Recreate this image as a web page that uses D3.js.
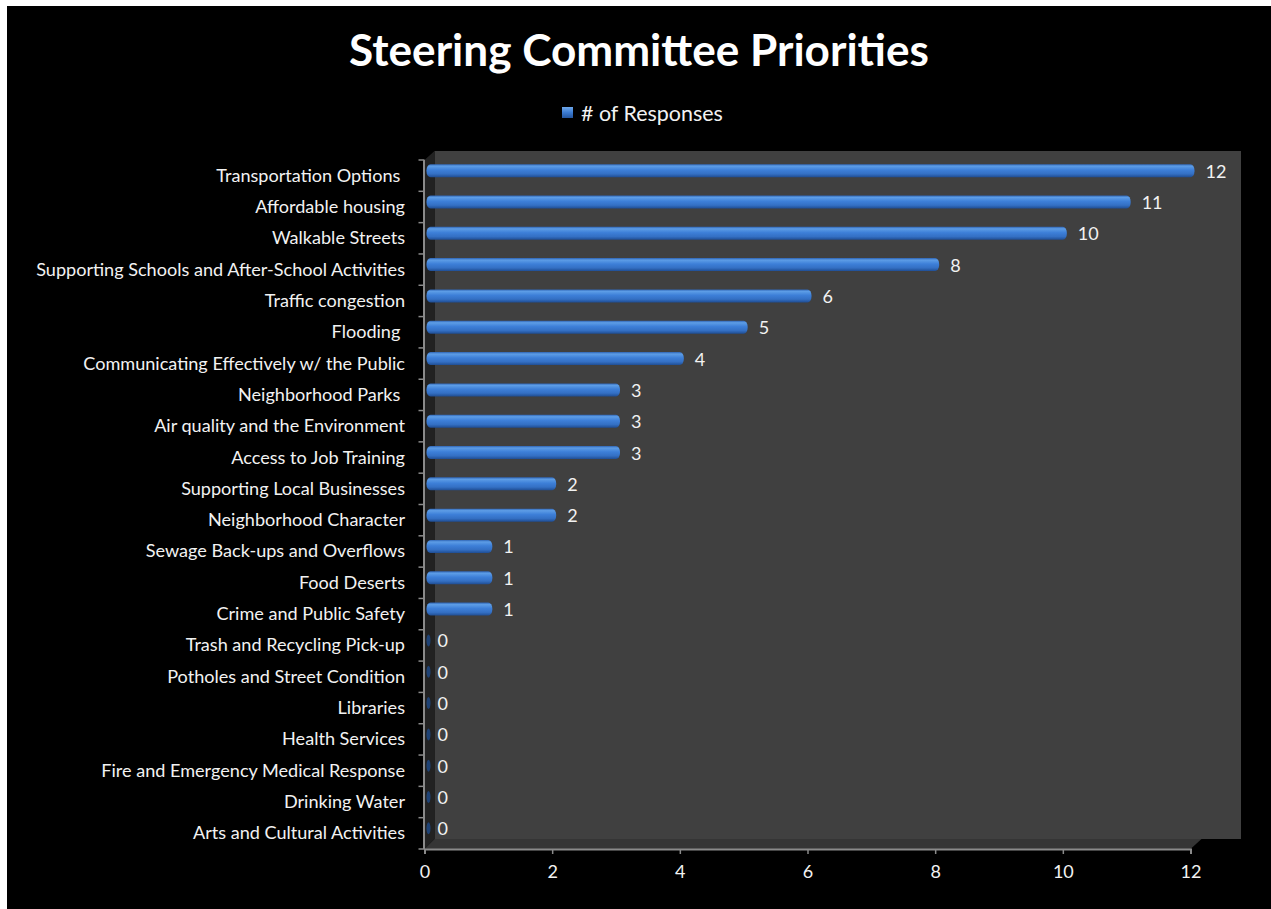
<!DOCTYPE html>
<html>
<head>
<meta charset="utf-8">
<script src="https://cdn.jsdelivr.net/npm/d3@7"></script>
<style>
  html, body { margin: 0; padding: 0; background: #fff; }
  svg { display: block; }
  text { font-family: Lato, "Open Sans", sans-serif; white-space: pre; }
</style>
</head>
<body>
<svg id="chart" width="1271" height="909"></svg>
<script>
// chart data
const categories = [
  "Transportation Options ",
  "Affordable housing",
  "Walkable Streets",
  "Supporting Schools and After-School Activities",
  "Traffic congestion",
  "Flooding ",
  "Communicating Effectively w/ the Public",
  "Neighborhood Parks ",
  "Air quality and the Environment",
  "Access to Job Training",
  "Supporting Local Businesses",
  "Neighborhood Character",
  "Sewage Back-ups and Overflows",
  "Food Deserts",
  "Crime and Public Safety",
  "Trash and Recycling Pick-up",
  "Potholes and Street Condition",
  "Libraries",
  "Health Services",
  "Fire and Emergency Medical Response",
  "Drinking Water",
  "Arts and Cultural Activities"
];
const responses = [12, 11, 10, 8, 6, 5, 4, 3, 3, 3, 2, 2, 1, 1, 1, 0, 0, 0, 0, 0, 0, 0];
const xTicks = [0, 2, 4, 6, 8, 10, 12];
const seriesName = "# of Responses";
const chartTitle = "Steering Committee Priorities";

const svg = d3.select("#chart");

// black chart area (white sliver top/left like the screenshot)
svg.append("rect").attr("x", 7).attr("y", 6).attr("width", 1264).attr("height", 903).attr("fill", "#000");

// layout
const plotLeft = 424.5, plotRight = 1190.5, plotTop = 160, plotBottom = 849;
const depth = 10; // 3d wall offset

const x = d3.scaleLinear().domain([0, 12]).range([plotLeft, plotRight]);
const y = d3.scaleBand().domain(categories).range([plotTop, plotBottom]);

// gradients
const defs = svg.append("defs");
const barGrad = defs.append("linearGradient").attr("id", "barGrad")
  .attr("x1", 0).attr("y1", 0).attr("x2", 0).attr("y2", 1);
barGrad.append("stop").attr("offset", "0%").attr("stop-color", "#2f65b5");
barGrad.append("stop").attr("offset", "15%").attr("stop-color", "#5d9de6");
barGrad.append("stop").attr("offset", "45%").attr("stop-color", "#3d7fd8");
barGrad.append("stop").attr("offset", "75%").attr("stop-color", "#3470c4");
barGrad.append("stop").attr("offset", "100%").attr("stop-color", "#1f4d93");

const legGrad = defs.append("linearGradient").attr("id", "legGrad")
  .attr("x1", 0).attr("y1", 0).attr("x2", 0).attr("y2", 1);
legGrad.append("stop").attr("offset", "0%").attr("stop-color", "#6fa8ea");
legGrad.append("stop").attr("offset", "50%").attr("stop-color", "#3b7bd2");
legGrad.append("stop").attr("offset", "100%").attr("stop-color", "#24559e");

// back wall
svg.append("rect")
  .attr("x", plotLeft + depth).attr("y", plotTop - 9)
  .attr("width", 1241 - (plotLeft + depth)).attr("height", (plotBottom - depth) - (plotTop - 9))
  .attr("fill", "#404040");

// side wall
svg.append("polygon")
  .attr("points", [[plotLeft, plotTop], [plotLeft + depth, plotTop - 9], [plotLeft + depth, plotBottom - depth], [plotLeft, plotBottom]].join(" "))
  .attr("fill", "#222");

// floor
svg.append("polygon")
  .attr("points", [[plotLeft, plotBottom], [plotLeft + depth, plotBottom - depth], [x(12) + depth + 1, plotBottom - depth], [x(12), plotBottom]].join(" "))
  .attr("fill", "#353535");

// x axis
const xAxis = svg.append("g").attr("transform", `translate(0,${plotBottom})`)
  .call(d3.axisBottom(x).tickValues(xTicks).tickSize(5).tickPadding(11).tickFormat(d3.format("d")));
xAxis.select(".domain").attr("stroke", "#8a8a8a").attr("stroke-width", 2);
xAxis.selectAll(".tick line").attr("stroke", "#8a8a8a").attr("stroke-width", 1.5);
xAxis.selectAll(".tick text").attr("fill", "#f2f2f2").attr("font-size", 18)
  .style("font-family", "Lato, sans-serif");

// y axis line and ticks at category boundaries
svg.append("line").attr("x1", plotLeft - 0.5).attr("x2", plotLeft - 0.5).attr("y1", plotTop).attr("y2", plotBottom)
  .attr("stroke", "#8a8a8a").attr("stroke-width", 2);
const boundaries = categories.map(c => y(c)).concat([plotBottom]);
svg.selectAll(".ytick").data(boundaries).join("line")
  .attr("class", "ytick")
  .attr("x1", plotLeft - 6).attr("x2", plotLeft)
  .attr("y1", d => d).attr("y2", d => d)
  .attr("stroke", "#8a8a8a").attr("stroke-width", 1.5);

// category labels
const catLabels = svg.selectAll(".cat").data(categories).join("text")
  .attr("class", "cat")
  .attr("x", 405)
  .attr("y", d => y(d) + y.bandwidth() / 2 + 6)
  .attr("text-anchor", "end")
  .attr("fill", "#f2f2f2")
  .attr("font-size", 17)
  .text(d => d);

// fit the label size so the longest one spans like the reference
const longest = catLabels.filter(d => d === categories[3]).node();
const w = longest.getComputedTextLength();
catLabels.attr("font-size", 17 * 369 / w);

// bars
const barH = 13, shiftX = 4, shiftY = -5;
const bars = svg.append("g");
responses.forEach((v, i) => {
  const cy = y(categories[i]) + y.bandwidth() / 2 + shiftY;
  if (v > 0) {
    bars.append("rect")
      .attr("x", x(0) + 2)
      .attr("y", cy - barH / 2)
      .attr("width", x(v) + shiftX - (x(0) + 2))
      .attr("height", barH)
      .attr("rx", 4).attr("ry", 6)
      .attr("fill", "url(#barGrad)");
  } else {
    bars.append("ellipse")
      .attr("cx", x(0) + 4)
      .attr("cy", cy)
      .attr("rx", 2).attr("ry", 6)
      .attr("fill", "#1e4275");
  }
});

// value labels
svg.selectAll(".val").data(responses).join("text")
  .attr("class", "val")
  .attr("x", d => x(d) + shiftX + (d > 0 ? 11 : 9))
  .attr("y", (d, i) => y(categories[i]) + y.bandwidth() / 2 + shiftY + 7)
  .attr("fill", "#f2f2f2")
  .attr("font-size", 18)
  .text(d => d);

// title
const title = svg.append("text")
  .attr("x", 639).attr("y", 66)
  .attr("text-anchor", "middle")
  .attr("fill", "#fff")
  .attr("font-weight", "bold")
  .attr("font-size", 40)
  .text(chartTitle);
title.attr("font-size", 40 * 580 / title.node().getComputedTextLength());

// legend
svg.append("rect").attr("x", 562).attr("y", 107).attr("width", 11).attr("height", 11)
  .attr("fill", "url(#legGrad)");
const leg = svg.append("text")
  .attr("x", 581).attr("y", 121)
  .attr("fill", "#f2f2f2")
  .attr("font-size", 20)
  .text(seriesName);
leg.attr("font-size", 20 * 142 / leg.node().getComputedTextLength());
</script>
</body>
</html>
